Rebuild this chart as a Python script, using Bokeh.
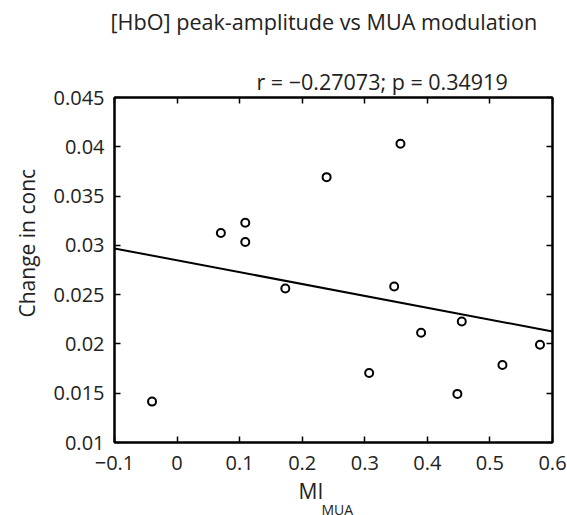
import numpy as np
from bokeh.plotting import figure
from bokeh.models import Range1d, FixedTicker, LinearAxis, Title, ColumnDataSource
from bokeh.embed import file_html
from bokeh.resources import INLINE

# ---- data ----
mi_mua = [-0.040, 0.070, 0.109, 0.109, 0.173, 0.239, 0.357, 0.347, 0.307, 0.390, 0.455, 0.448, 0.520, 0.580]
conc = [0.01415, 0.03126, 0.0323, 0.03034, 0.02562, 0.03692, 0.0403, 0.02582, 0.01705, 0.02113, 0.02228, 0.01493, 0.01786, 0.01992]

x_ticks = [-0.1, 0.0, 0.1, 0.2, 0.3, 0.4, 0.5, 0.6]
x_tick_labels = ["\u22120.1", "0", "0.1", "0.2", "0.3", "0.4", "0.5", "0.6"]
y_ticks = [0.01, 0.015, 0.02, 0.025, 0.03, 0.035, 0.04, 0.045]
y_tick_labels = ["0.01", "0.015", "0.02", "0.025", "0.03", "0.035", "0.04", "0.045"]

title_text = "[HbO] peak-amplitude vs MUA modulation"
stats_text = "r = \u22120.27073; p = 0.34919"
y_label_text = "Change in conc"
x_label_main = "MI"
x_label_sub = "MUA"

FONT = "Open Sans"
TXT = "#222222"

F_LEFT, F_RIGHT, F_TOP, F_BOTTOM = 114, 552, 97, 442
W, H = 567, 515

p = figure(width=W, height=H, output_backend="svg", toolbar_location=None,
           x_range=Range1d(x_ticks[0], x_ticks[-1]), y_range=Range1d(y_ticks[0], y_ticks[-1]),
           x_axis_location=None, y_axis_location=None,
           min_border_left=F_LEFT, min_border_right=W - F_RIGHT,
           min_border_top=F_TOP, min_border_bottom=H - F_BOTTOM)
p.grid.visible = False
p.background_fill_color = "white"
p.border_fill_color = "white"
p.outline_line_color = "black"
p.outline_line_width = 2


def make_axis(loc, ticks, labels, show_labels):
    ax = LinearAxis(ticker=FixedTicker(ticks=ticks))
    ax.major_label_overrides = {t: (l if show_labels else "") for t, l in zip(ticks, labels)}
    ax.axis_line_color = "black"
    ax.axis_line_width = 2
    ax.major_tick_line_color = "black"
    ax.major_tick_line_width = 1.5
    ax.major_tick_in = 6
    ax.major_tick_out = 0
    ax.minor_tick_line_color = None
    ax.major_label_text_font = FONT
    ax.major_label_text_font_size = "20px" if show_labels else "0px"
    ax.major_label_text_color = TXT
    p.add_layout(ax, loc)
    return ax


bx = make_axis("below", x_ticks, x_tick_labels, True)
bx.major_label_standoff = 13
ly = make_axis("left", y_ticks, y_tick_labels, True)
ly.major_label_standoff = 10
make_axis("above", x_ticks, x_tick_labels, False)
make_axis("right", y_ticks, y_tick_labels, False)

# regression line computed from the data
slope, intercept = np.polyfit(mi_mua, conc, 1)
fit_x = [x_ticks[0], x_ticks[-1]]
fit_y = [intercept + slope * v for v in fit_x]
p.line(fit_x, fit_y, line_color="black", line_width=2)

src = ColumnDataSource(dict(x=mi_mua, y=conc))
p.scatter("x", "y", source=src, marker="circle", size=8, fill_color=None,
          line_color="black", line_width=2)


def make_title(text, size, align, offset, standoff, vertical_align="bottom"):
    return Title(text=text, text_font=FONT, text_font_size=size, text_font_style="normal",
                 text_color=TXT, align=align, offset=offset, standoff=standoff,
                 vertical_align=vertical_align)


# stats line just above the frame
p.add_layout(make_title(stats_text, "21.5px", "left", 142, 4), "above")

# invisible spacer (white tick in the white border) between the stats line and the main title
spacer = LinearAxis(ticker=FixedTicker(ticks=[x_ticks[-1]]), axis_line_color=None,
                    major_tick_line_color="white", major_tick_line_width=1,
                    minor_tick_line_color=None,
                    major_tick_in=0, major_tick_out=27, major_label_standoff=0,
                    major_label_text_font_size="0px",
                    major_label_overrides={x_ticks[-1]: ""})
p.add_layout(spacer, "above")

# main title outermost
p.title = make_title(title_text, "21.6px", "left", -4, 0)
p.title_location = "above"

p.add_layout(make_title(y_label_text, "21px", "left", 125, 20), "left")
p.add_layout(make_title(x_label_main, "21px", "left", 184, 5), "below")
p.add_layout(make_title(x_label_sub, "14px", "left", 207, -20), "below")

open("out.html", "w").write(file_html(p, INLINE))
